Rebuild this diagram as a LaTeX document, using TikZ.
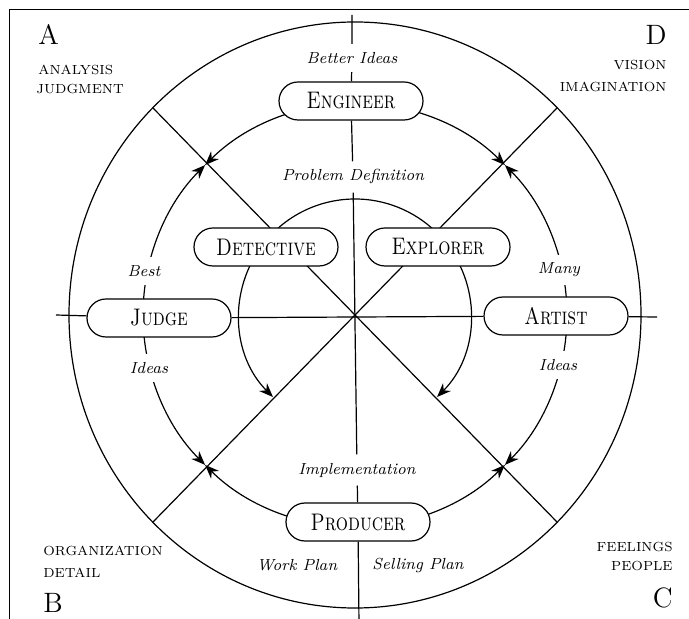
\documentclass[tikz,border=0pt]{standalone}
\usepackage{tikz}
\usepackage{graphicx}
\usetikzlibrary{arrows.meta,shapes.misc,backgrounds}

\newcommand{\rolename}[1]{\scalebox{0.8}[1]{\textsc{#1}}}

\tikzset{
  role/.style={rounded rectangle, draw, fill=white, line width=0.6pt,
    minimum width=72pt, minimum height=19pt, inner xsep=0pt, inner ysep=2pt,
    font=\fontsize{12}{12}\selectfont},
  cue/.style={fill=white, inner sep=4pt, font=\fontsize{8}{9}\selectfont\itshape},
  quadrant/.style={inner sep=0pt, font=\fontsize{14}{14}\selectfont},
  trait/.style={inner sep=0pt, font=\fontsize{6.6}{9}\selectfont},
  ring/.style={line width=0.6pt},
  flow/.style={line width=0.6pt, -{Stealth[length=7pt,width=5.5pt]}}
}

\begin{document}
\begin{tikzpicture}[x=0.5pt,y=0.5pt]
\useasboundingbox (-355,-304) rectangle (334,315);

% the four thinking styles on the middle ring
\node[role] (engineer) at (-4,214) {\rolename{Engineer}};
\node[role] (judge) at (-196,-3) {\rolename{Judge}};
\node[role] (artist) at (201,-1) {\rolename{Artist}};
\node[role] (producer) at (3,-207) {\rolename{Producer}};
% inner ring
\node[role] (detective) at (-89,68) {\rolename{Detective}};
\node[role] (explorer) at (83,68) {\rolename{Explorer}};

% italic cues
\node[cue] (better) at (-3,257) {Better Ideas};
\node[cue] (probdef) at (-2,138) {Problem Definition};
\node[cue] (implem) at (2,-155) {Implementation};
\node[cue] (best) at (-211,44) {Best};
\node[cue] (ideasL) at (-206,-53) {Ideas};
\node[cue] (many) at (204,45) {Many};
\node[cue] (ideasR) at (203,-50) {Ideas};
\node[cue] (workplan) at (-58,-250) {Work Plan};
\node[cue] (sellplan) at (63,-250) {Selling Plan};

% quadrant corners
\node[quadrant, anchor=base west] (qa) at (-317,270) {A};
\node[trait, anchor=base west] (analysis) at (-317,240) {ANALYSIS};
\node[trait, anchor=base west] (judgment) at (-319,221) {JUDGMENT};
\node[quadrant, anchor=base east] (qd) at (312,270) {D};
\node[trait, anchor=base east] (vision) at (312,245) {VISION};
\node[trait, anchor=base east] (imagination) at (312,223) {IMAGINATION};
\node[trait, anchor=base west] (organization) at (-312,-240) {ORGANIZATION};
\node[trait, anchor=base west] (detail) at (-312,-262) {DETAIL};
\node[quadrant, anchor=base west] (qb) at (-312,-297) {B};
\node[trait, anchor=base east] (feelings) at (318,-236) {FEELINGS};
\node[trait, anchor=base east] (people) at (318,-255) {PEOPLE};
\node[quadrant, anchor=base east] (qc) at (318,-292) {C};

% ends of the axes and diagonals
\coordinate (hub) at (0,0);
\coordinate (nend) at (-3,300);
\coordinate (send) at (4,-310);
\coordinate (wend) at (-299,0);
\coordinate (eend) at (302,-2);
\coordinate (nw) at (-202,207);
\coordinate (ne) at (202,207);
\coordinate (sw) at (-202,-207);
\coordinate (se) at (202,-207);

% frame
\coordinate (fnw) at (-345,305);
\coordinate (fne) at (334,305);
\coordinate (fsw) at (-345,-304);
\draw[line width=0.5pt] (fne) -- (fnw) -- (fsw);

\begin{scope}[on background layer]
\draw[ring] (hub) ellipse[x radius=143pt, y radius=146.5pt];
\draw[ring] (nw) -- (se);
\draw[ring] (ne) -- (sw);
\draw[ring] (wend) -- (judge) -- (artist) -- (eend);
\draw[ring] (nend) -- (better) -- (engineer) -- (probdef) -- (implem) -- (producer) -- (send);
% middle ring, flowing towards the diagonals
\foreach \s/\e in {90/135,90/45,180/135,180/225,270/225,270/315,0/45,0/-45}
  \draw[flow] (hub) ++(\s:106pt) arc[start angle=\s, end angle=\e, radius=106pt];
% inner ring
\draw[ring] (hub) ++(142:58pt) arc[start angle=142, end angle=38, radius=58pt];
\draw[flow] (hub) ++(142:58pt) arc[start angle=142, end angle=225, radius=58pt];
\draw[flow] (hub) ++(38:58pt) arc[start angle=38, end angle=-45, radius=58pt];
\end{scope}
\end{tikzpicture}
\end{document}
